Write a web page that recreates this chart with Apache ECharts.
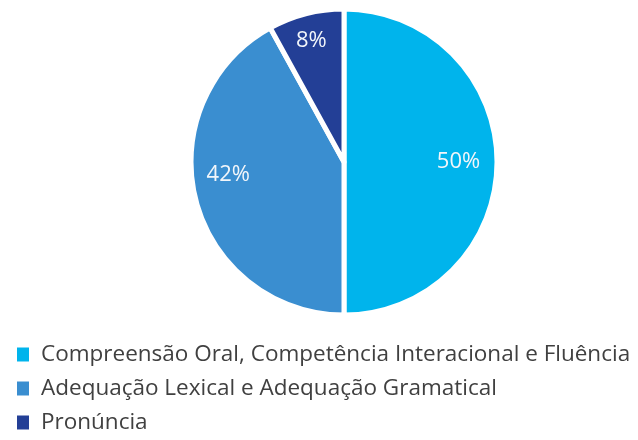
<!DOCTYPE html>
<html>
<head>
<meta charset="utf-8">
<script src="https://cdn.jsdelivr.net/npm/echarts@6/dist/echarts.min.js"></script>
<style>
  html, body { margin: 0; padding: 0; background: #fff; }
  #chart { width: 638px; height: 440px; }
</style>
</head>
<body>
<div id="chart"></div>
<script>
  // categorias e valores (%)
  var categories = [
    'Compreensão Oral, Competência Interacional e Fluência',
    'Adequação Lexical e Adequação Gramatical',
    'Pronúncia'
  ];
  var values = [50, 42, 8];
  var colors = ['#00B4EC', '#3A8ED0', '#233F96'];

  var pieData = categories.map(function (name, i) {
    return { name: name, value: values[i], itemStyle: { color: colors[i] } };
  });

  var chart = echarts.init(document.getElementById('chart'));
  chart.setOption({
    animation: false,
    textStyle: { fontFamily: 'Open Sans' },
    legend: {
      orient: 'vertical',
      left: 12,
      top: 338,
      icon: 'rect',
      itemWidth: 12,
      itemHeight: 14,
      itemGap: 11,
      itemStyle: { borderWidth: 0 },
      textStyle: { fontSize: 22.5, color: '#404040', fontFamily: 'Open Sans', padding: [0, 0, 0, 7] },
      data: categories
    },
    series: [
      {
        type: 'pie',
        center: [344, 162],
        radius: [0, 153],
        startAngle: 90,
        clockwise: true,
        itemStyle: { borderColor: '#fff', borderWidth: 5 },
        label: { show: false },
        labelLine: { show: false },
        emphasis: { disabled: true },
        data: pieData
      },
      {
        // anel transparente só para posicionar os rótulos
        type: 'pie',
        center: [344, 162],
        radius: [80, 153],
        startAngle: 90,
        silent: true,
        itemStyle: { color: 'transparent', borderWidth: 0 },
        label: {
          show: true,
          position: 'inside',
          formatter: '{c}%',
          fontSize: 22,
          color: '#F2F6FA',
          fontFamily: 'Open Sans'
        },
        labelLayout: function (p) {
          if (p.dataIndex === 0) return { dx: -5 };
          if (p.dataIndex === 1) return { dy: -17 };
          if (p.dataIndex === 2) return { dx: -3, dy: -6 };
          return {};
        },
        labelLine: { show: false },
        emphasis: { disabled: true },
        data: categories.map(function (name, i) {
          return { name: name, value: values[i], itemStyle: { color: 'transparent' } };
        })
      }
    ]
  });
</script>
</body>
</html>
